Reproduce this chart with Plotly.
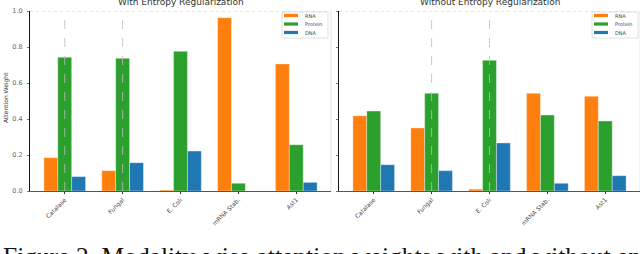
import plotly.graph_objects as go

categories = ["Catalase", "Fungal", "E. Coli", "mRNA Stab.", "Ast1"]
modalities = ["RNA", "Protein", "DNA"]
colors = ["#ff7f0e", "#2ca02c", "#1f77b4"]

with_entropy = {
    "RNA": [0.185, 0.113, 0.005, 0.963, 0.706],
    "Protein": [0.743, 0.737, 0.776, 0.043, 0.257],
    "DNA": [0.080, 0.157, 0.222, 0.0, 0.048],
}
without_entropy = {
    "RNA": [0.418, 0.350, 0.010, 0.543, 0.526],
    "Protein": [0.444, 0.543, 0.726, 0.422, 0.389],
    "DNA": [0.146, 0.113, 0.267, 0.043, 0.085],
}
y_ticks = [0.0, 0.2, 0.4, 0.6, 0.8, 1.0]
titles = ["With Entropy Regularization", "Without Entropy Regularization"]
caption = "Figure 2. Modality-wise attention weights with and without en"

W, H = 640, 254
def px(x):
    return x / W
def py(y):
    return 1 - y / H

fig = go.Figure()
for i, m in enumerate(modalities):
    fig.add_trace(go.Bar(x=categories, y=with_entropy[m], name=m, marker_color=colors[i],
                         marker_line=dict(color="rgba(255,255,255,0.6)", width=0.6),
                         xaxis="x", yaxis="y", showlegend=False))
for i, m in enumerate(modalities):
    fig.add_trace(go.Bar(x=categories, y=without_entropy[m], name=m, marker_color=colors[i],
                         marker_line=dict(color="rgba(255,255,255,0.6)", width=0.6),
                         xaxis="x2", yaxis="y2", showlegend=False))

ydom = [py(191), py(11)]
common_x = dict(type="category", range=[-0.6, 4.6], tickangle=-45, showgrid=False,
                showline=True, linecolor="#555", linewidth=1.2, ticks="outside", ticklen=2,
                tickcolor="#333", tickfont=dict(size=6, color="#444", family="DejaVu Sans"),
                automargin=False)
common_y = dict(range=[0, 1.0], tickvals=y_ticks, showgrid=False, showline=True,
                linecolor="#111", linewidth=1.2, ticks="outside", ticklen=2, tickcolor="#777",
                zeroline=False, domain=ydom, automargin=False)

fig.update_layout(
    width=W, height=H, margin=dict(l=0, r=0, t=0, b=0, autoexpand=False),
    plot_bgcolor="white", paper_bgcolor="white",
    barmode="group", bargap=0.28, bargroupgap=0.0,
    xaxis=dict(common_x, domain=[px(30), px(331)], anchor="y"),
    xaxis2=dict(common_x, domain=[px(339), px(640)], anchor="y2"),
    yaxis=dict(common_y, anchor="x", tickformat=".1f", ticklabelstandoff=3,
               tickfont=dict(size=6.5, color="#666", family="DejaVu Sans")),
    yaxis2=dict(common_y, anchor="x2", showticklabels=False),
    showlegend=False,
)

shapes = []
annotations = []
for xd, xr in [("x domain", "y"), ("x2 domain", "y2")]:
    shapes.append(dict(type="line", xref=xd, yref=xr, x0=0, x1=1, y0=1.0, y1=1.0,
                       line=dict(color="#ccc", width=1, dash="dot")))
    shapes.append(dict(type="line", xref=xd, yref=xr, x0=1, x1=1, y0=0, y1=1.0,
                       line=dict(color="#ddd", width=0.8)))
for xr, yr, idxs in [("x", "y", [0, 1]), ("x2", "y2", [1, 2])]:
    for k in idxs:
        shapes.append(dict(type="line", xref=xr, yref=yr, x0=k, x1=k, y0=0, y1=1.0,
                           line=dict(color="#bbb", width=0.8, dash="dash"), layer="above"))

# compact legends
for left in [282, 592]:
    shapes.append(dict(type="rect", xref="paper", yref="paper",
                       x0=px(left), x1=px(left + 46), y0=py(38), y1=py(12),
                       fillcolor="white", line=dict(color="#ccc", width=0.6), layer="above"))
    for i, m in enumerate(modalities):
        yc = 15.5 + 8.5 * i
        shapes.append(dict(type="rect", xref="paper", yref="paper",
                           x0=px(left + 2), x1=px(left + 16), y0=py(yc + 1.6), y1=py(yc - 1.6),
                           fillcolor=colors[i], line=dict(width=0), layer="above"))
        annotations.append(dict(text=m, x=px(left + 21), y=py(yc), xref="paper", yref="paper",
                                showarrow=False, xanchor="left", yanchor="middle",
                                font=dict(size=5, color="#444", family="DejaVu Sans")))
fig.update_layout(shapes=shapes)

annotations += [
    dict(text=titles[0], x=px(180.5), y=py(10), yshift=8.5, xref="paper", yref="paper",
         showarrow=False, xanchor="center", yanchor="middle",
         font=dict(size=9, color="#333", family="DejaVu Sans")),
    dict(text=titles[1], x=px(489.5), y=py(10), yshift=8.5, xref="paper", yref="paper",
         showarrow=False, xanchor="center", yanchor="middle",
         font=dict(size=9, color="#333", family="DejaVu Sans")),
    dict(text="Attention Weight", x=px(6), y=py(98), xref="paper", yref="paper",
         showarrow=False, xanchor="center", yanchor="middle", textangle=-90,
         font=dict(size=6, color="#333", family="DejaVu Sans")),
    dict(text=caption, x=px(1), y=py(250), yshift=-6.5, xref="paper", yref="paper",
         showarrow=False, xanchor="left", yanchor="middle",
         font=dict(size=25.5, color="#111", family="Liberation Serif")),
]
fig.update_layout(annotations=annotations)

fig.write_html("out.html", config={"displayModeBar": False},
               post_script="document.body.style.margin='0';")
